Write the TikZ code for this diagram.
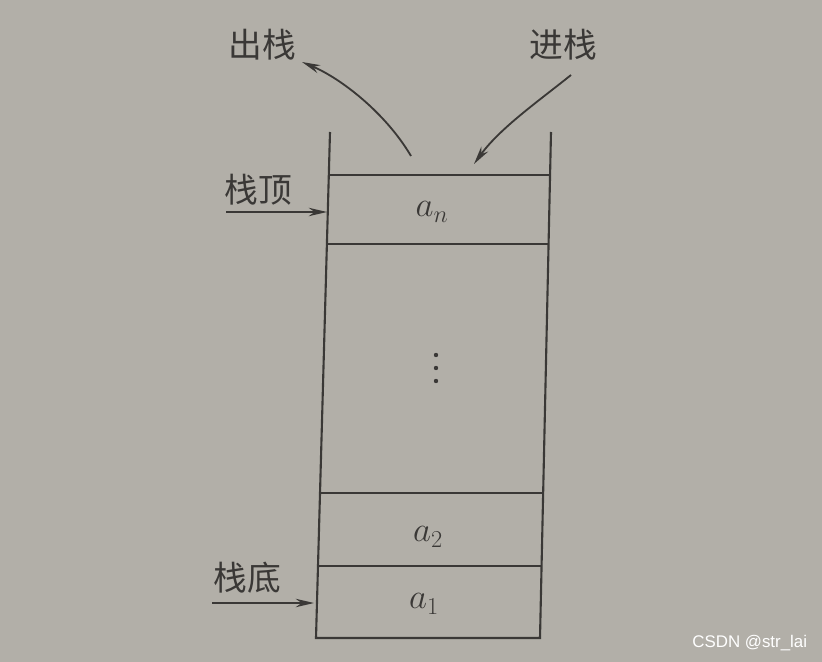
\documentclass[tikz,border=0pt]{standalone}
\usepackage{fontspec}
\newfontfamily\cjk{Noto Sans CJK SC}
\newfontfamily\wmfont{Liberation Sans}
\usetikzlibrary{arrows.meta}
\definecolor{paper}{RGB}{178,175,168}
\definecolor{ink}{RGB}{58,56,54}

\begin{document}
\begin{tikzpicture}[
        x=0.025cm,y=-0.025cm,
        wall/.style={ink,line width=1.5pt},
        pointer/.style={ink,line width=1.3pt,-{Stealth[length=13pt,width=6pt]}},
        zh/.style={ink,font=\cjk\fontsize{24}{28}\selectfont},
        elem/.style={ink,font=\fontsize{25}{30}\selectfont}
      ]
      \useasboundingbox (0,0) rectangle (822,662);
      \fill[paper] (0,0) rectangle (822,662);

      % the stack
      \draw[wall] (330,132) -- (316,638) -- (540,638) -- (551,132);
      \foreach \y in {175,244,493,566}
        \draw[wall] ({330-14*(\y-132)/506},\y) -- ({551-11*(\y-132)/506},\y);

      \node[elem] (an) at (432,212) {$a_n$};
      \foreach \y in {355,368,381}
        \fill[ink] (436,\y) circle (2.2);
      \node[elem] (a2) at (428,537) {$a_2$};
      \node[elem] (a1) at (424,604) {$a_1$};

      % push and pop
      \node[zh] (pop) at (262,45) {出栈};
      \node[zh] (push) at (563,45) {进栈};
      \coordinate (popfrom) at (411,156);
      \coordinate (popto) at (302,62);
      \coordinate (pushfrom) at (571,75);
      \coordinate (pushto) at (474,164);
      \draw[pointer] (popfrom) .. controls (385,112) and (340,78) .. (popto);
      \draw[pointer] (pushfrom) .. controls (540,100) and (500,128) .. (pushto);

      % top and bottom
      \node[zh] (top) at (258,190) {栈顶};
      \node[zh] (bottom) at (247,578) {栈底};
      \coordinate (topfrom) at (226,212);
      \coordinate (topto) at (327,212);
      \coordinate (bottomfrom) at (212,603);
      \coordinate (bottomto) at (314,603);
      \draw[pointer] (topfrom) -- (topto);
      \draw[pointer] (bottomfrom) -- (bottomto);

      \node[white,anchor=east,font=\wmfont\fontsize{12}{14}\selectfont] (mark) at (812,643) {CSDN @str\_lai};
    \end{tikzpicture}
\end{document}
